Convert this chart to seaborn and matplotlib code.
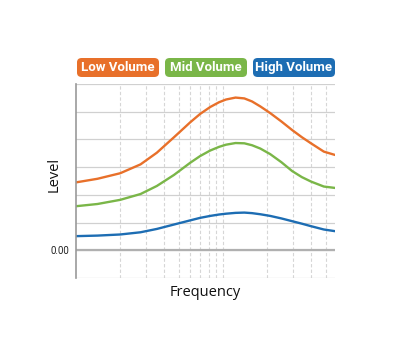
import numpy as np
import pandas as pd
import matplotlib.pyplot as plt
import seaborn as sns
from matplotlib.patches import FancyBboxPatch

# data (x: frequency, log scale; y: level)
freq = [100, 140, 200, 275, 355, 465, 600, 700, 820, 940, 1050, 1220, 1400, 1580,
        1800, 2100, 2500, 2960, 3450, 3980, 4870, 5800]
low_volume = [2.45, 2.58, 2.78, 3.10, 3.52, 4.08, 4.62, 4.92, 5.17, 5.34, 5.44, 5.51,
              5.48, 5.37, 5.19, 4.95, 4.65, 4.34, 4.08, 3.86, 3.56, 3.44]
mid_volume = [1.59, 1.67, 1.82, 2.03, 2.32, 2.72, 3.16, 3.40, 3.60, 3.73, 3.81, 3.87,
              3.86, 3.79, 3.67, 3.47, 3.18, 2.86, 2.64, 2.48, 2.30, 2.25]
high_volume = [0.51, 0.53, 0.57, 0.65, 0.77, 0.93, 1.08, 1.17, 1.24, 1.29, 1.32, 1.35,
               1.36, 1.34, 1.30, 1.24, 1.15, 1.05, 0.96, 0.87, 0.75, 0.69]

series_names = ['Low Volume', 'Mid Volume', 'High Volume']
colors = ['#E8702A', '#7AB648', '#1D6DB3']

df = pd.DataFrame({
    'Frequency': freq * 3,
    'Level': low_volume + mid_volume + high_volume,
    'Series': [s for s in series_names for _ in freq],
})

sns.set_style('white')

fig = plt.figure(figsize=(3.99, 3.60), dpi=100)
W, H = 399, 360
ax = fig.add_axes([76 / W, (H - 278) / H, (335 - 76) / W, (278 - 84) / H])

sns.lineplot(data=df, x='Frequency', y='Level', hue='Series', palette=colors,
             linewidth=1.7, legend=False, ax=ax, sort=False,
             solid_joinstyle='round', solid_capstyle='round')

ax.set_xscale('log')
ax.set_xlim(100, 5800)
ax.set_ylim(-1, 6)

# grid
ax.set_yticks(range(-1, 7))
ax.set_yticklabels(['' if v != 0 else '0.00' for v in range(-1, 7)],
                   fontfamily='Roboto', fontsize=7, color='#222222')
ax.tick_params(axis='y', length=0, pad=5)
ax.set_xticks([200, 300, 400, 500, 600, 700, 800, 900, 1000, 2000, 3000, 4000, 5000])
ax.set_xticks([], minor=True)
ax.set_xticklabels([])
ax.tick_params(axis='x', length=0)
ax.grid(axis='y', color='#d0d0d0', linewidth=0.9)
ax.grid(axis='x', color='#d6d6d6', linewidth=0.8, linestyle=(0, (3, 2)))
ax.axhline(0, color='#b0b0b0', linewidth=1.6, zorder=1)
ax.set_axisbelow(True)

for side in ['top', 'right', 'bottom']:
    ax.spines[side].set_visible(False)
ax.spines['left'].set_color('#999999')
ax.spines['left'].set_linewidth(1.2)

ax.set_xlabel('Frequency', fontfamily='Open Sans', fontsize=10.5, color='#111111')
ax.set_ylabel('Level', fontfamily='Open Sans', fontsize=10.5, color='#111111')
ax.xaxis.set_label_coords(0.5, -0.035, transform=ax.transAxes)
ax.yaxis.set_label_coords((62 - 76) / (335 - 76), (278 - 174) / (278 - 84))

# legend boxes
box_x = [77, 165, 253]
for x0, name, c in zip(box_x, series_names, colors):
    x0f, y0f = x0 / W, (H - 77) / H
    wf, hf = 82 / W, 19 / H
    patch = FancyBboxPatch((x0f, y0f), wf, hf, boxstyle='round,pad=0,rounding_size=0.012',
                           transform=fig.transFigure, facecolor=c, edgecolor='none')
    fig.patches.append(patch)
    fig.text(x0f + wf / 2, y0f + hf / 2, name, ha='center', va='center', color='white',
             fontfamily='Roboto', fontweight='bold', fontsize=9.5)

fig.savefig('out.png', dpi=100)
